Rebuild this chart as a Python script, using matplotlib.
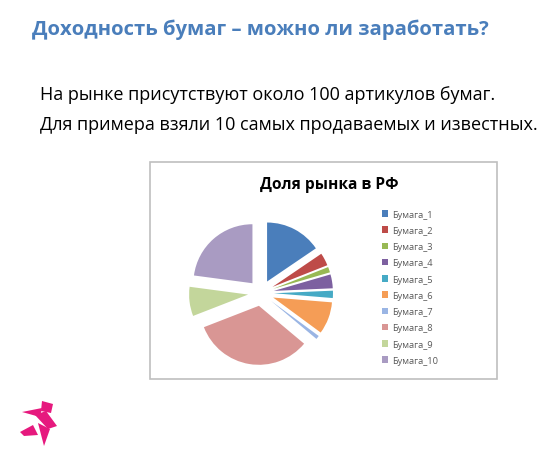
import matplotlib.pyplot as plt
from matplotlib.patches import Rectangle, Polygon

plt.rcParams['font.family'] = ['Open Sans', 'DejaVu Sans']

labels = ['Бумага_1', 'Бумага_2', 'Бумага_3', 'Бумага_4', 'Бумага_5',
          'Бумага_6', 'Бумага_7', 'Бумага_8', 'Бумага_9', 'Бумага_10']
shares = [15.5, 3.5, 1.5, 3.8, 2.0, 8.8, 1.0, 33.0, 8.0, 22.9]
colors = ['#4A7EBB', '#BE4B48', '#98B954', '#7D60A0', '#46AAC5',
          '#F59D56', '#9AB5E4', '#D99694', '#C3D69B', '#A99BC2']

W, H = 550, 460
fig = plt.figure(figsize=(W / 100, H / 100), dpi=100)
fig.patch.set_facecolor('white')


def px(x, y):
    return x / W, 1 - y / H


# slide text
fig.text(*px(32, 30), 'Доходность бумаг – можно ли заработать?', color='#4A7EBB',
         fontsize=14.6, fontweight='bold', va='center', ha='left')
fig.text(*px(40, 95), 'На рынке присутствуют около 100 артикулов бумаг.',
         fontsize=13, va='center', ha='left', color='black')
fig.text(*px(40, 125), 'Для примера взяли 10 самых продаваемых и известных.',
         fontsize=13, va='center', ha='left', color='black')

# chart frame
x0, y0 = px(150, 380)
fig.patches.append(Rectangle((x0, y0), 347 / W, 217 / H, transform=fig.transFigure,
                             facecolor='white', edgecolor='#BFBFBF', lw=1.2, zorder=-1))
fig.text(*px(329, 185), 'Доля рынка в РФ', fontsize=11.2, fontweight='bold',
         ha='center', va='center', color='black')

# pie
r_px = 59
size = 200
cx, cy = 261, 294
ax = fig.add_axes([(cx - size / 2) / W, 1 - (cy + size / 2) / H, size / W, size / H])
ax.set_zorder(2)
ax.patch.set_visible(False)
lim = size / 2 / r_px
wedges, _ = ax.pie(shares, colors=colors, startangle=90, counterclock=False,
                   explode=[0.22] * len(shares), radius=1,
                   wedgeprops=dict(linewidth=0))
ax.set_xlim(-lim, lim)
ax.set_ylim(-lim, lim)
ax.set_aspect('equal')
ax.axis('off')

leg = fig.legend(wedges, labels, loc='upper left', bbox_to_anchor=px(377, 206),
                 frameon=False, fontsize=6.7, handlelength=0.7, handleheight=0.7,
                 handletextpad=0.4, labelspacing=0.78, borderpad=0)
for t in leg.get_texts():
    t.set_color('#595959')

# logo
pink = '#E6197E'
shapes = [
    [(42, 402), (53, 405), (51, 414), (41, 412)],
    [(22, 413), (42, 409), (40, 418)],
    [(35, 416), (46, 412), (57, 427), (48, 430)],
    [(38, 424), (50, 430), (44, 447)],
    [(20, 433), (33, 426), (38, 436), (24, 437)],
]
for s in shapes:
    fig.patches.append(Polygon([px(a, b) for a, b in s], closed=True,
                               transform=fig.transFigure, facecolor=pink, edgecolor='none'))

fig.savefig('out.png', dpi=100)
